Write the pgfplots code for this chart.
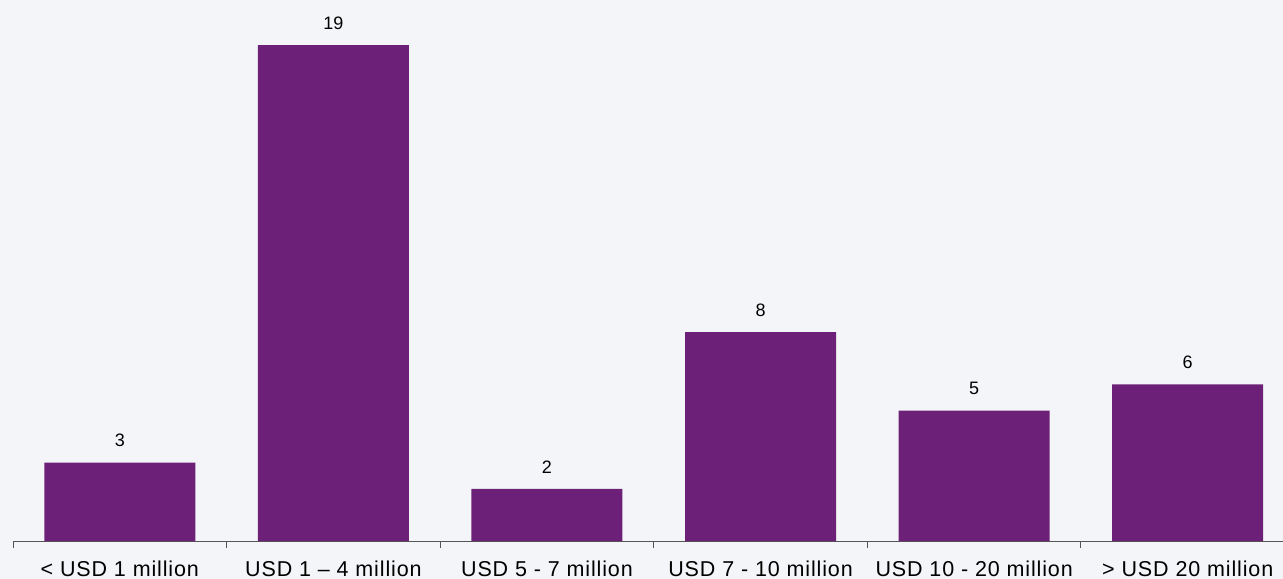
\documentclass[border=0pt]{standalone}
\usepackage{pgfplots}
\pgfplotsset{compat=1.18}
\usepackage{fontspec}
\setmainfont{Liberation Sans}
\newfontfamily\tickfont[LetterSpace=4]{Liberation Sans}
\definecolor{kpurple}{HTML}{6D2077}
\definecolor{bgc}{HTML}{F4F5F8}
\definecolor{axc}{HTML}{555555}
\begin{document}
\begin{tikzpicture}
\fill[bgc] (0,0) rectangle (1283bp,579bp);
\path[use as bounding box] (0,0) rectangle (1283bp,579bp);
\begin{axis}[
  at={(13bp,38bp)}, anchor=south west,
  scale only axis,
  width=1281.6bp, height=541bp,
  xmin=-0.5, xmax=5.5,
  ymin=0, ymax=20.73,
  axis x line=bottom, axis y line=none,
  axis line style={-, axc, line width=1bp},
  xtick={0,1,2,3,4,5},
  xticklabels={{< USD 1 million},{USD 1 – 4 million},{USD 5 - 7 million},{USD 7 - 10 million},{USD 10 - 20 million},{> USD 20 million}},
  major tick length=0pt,
  minor xtick={-0.5,0.5,1.5,2.5,3.5,4.5,5.5},
  minor tick length=6.5bp,
  tick align=outside,
  minor tick style={axc, line width=1bp},
  xticklabel style={anchor=base, yshift=-35bp, font=\tickfont\fontsize{21.5bp}{24bp}\selectfont, text=black},
  /pgf/number format/assume math mode=true,
  ybar, bar width=151bp,
  nodes near coords,
  every node near coord/.append style={anchor=center, yshift=22bp, font=\fontsize{18bp}{20bp}\selectfont, text=black},
  clip=false,
]
\addplot[fill=kpurple, draw=none] coordinates {(0,3) (1,19) (2,2) (3,8) (4,5) (5,6)};
\end{axis}
\end{tikzpicture}
\end{document}
